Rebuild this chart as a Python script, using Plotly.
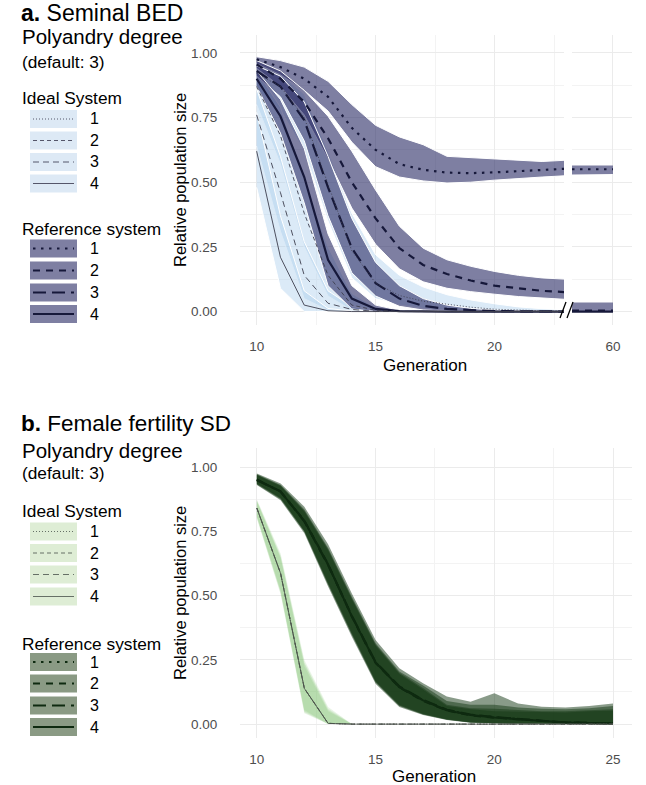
import plotly.graph_objects as go

W, H = 646, 785
def px(x): return x / W
def py(y): return 1 - y / H

FONT = "Liberation Sans, Arial, sans-serif"

# ---------------- DATA: panel a (Seminal BED) ----------------
gen_a = [10, 11, 12, 13, 14, 15, 16, 17, 18, 19, 20, 21, 22, 23]
gen_a_tail = [58, 59, 60]

ref1_mid = [0.975, 0.945, 0.90, 0.83, 0.71, 0.625, 0.57, 0.548, 0.537, 0.535, 0.538, 0.543, 0.548, 0.552]
ref1_lo  = [0.958, 0.915, 0.855, 0.775, 0.655, 0.56, 0.52, 0.505, 0.497, 0.50, 0.508, 0.515, 0.52, 0.525]
ref1_hi  = [0.985, 0.97, 0.945, 0.89, 0.80, 0.72, 0.675, 0.645, 0.60, 0.595, 0.59, 0.585, 0.58, 0.585]
ref2_mid = [0.955, 0.90, 0.81, 0.67, 0.50, 0.36, 0.245, 0.18, 0.145, 0.12, 0.10, 0.09, 0.08, 0.075]
ref2_lo  = [0.94, 0.87, 0.76, 0.59, 0.40, 0.26, 0.165, 0.115, 0.09, 0.077, 0.067, 0.058, 0.052, 0.047]
ref2_hi  = [0.97, 0.93, 0.855, 0.755, 0.62, 0.47, 0.33, 0.245, 0.20, 0.175, 0.155, 0.14, 0.13, 0.125]
ref3_mid = [0.93, 0.87, 0.74, 0.48, 0.245, 0.11, 0.05, 0.022, 0.01, 0.005, 0.002, 0.001, 0.0, 0.0]
ref3_lo  = [0.91, 0.83, 0.66, 0.37, 0.15, 0.06, 0.02, 0.006, 0.002, 0.0, 0.0, 0.0, 0.0, 0.0]
ref3_hi  = [0.95, 0.91, 0.81, 0.60, 0.36, 0.19, 0.10, 0.05, 0.025, 0.012, 0.006, 0.003, 0.002, 0.001]
ref4_mid = [0.90, 0.755, 0.52, 0.20, 0.05, 0.01, 0.002, 0.0, 0.0, 0.0, 0.0, 0.0, 0.0, 0.0]
ref4_lo  = [0.87, 0.69, 0.42, 0.10, 0.01, 0.0, 0.0, 0.0, 0.0, 0.0, 0.0, 0.0, 0.0, 0.0]
ref4_hi  = [0.93, 0.82, 0.63, 0.30, 0.10, 0.025, 0.005, 0.001, 0.0, 0.0, 0.0, 0.0, 0.0, 0.0]

ide1_mid = [0.92, 0.87, 0.75, 0.49, 0.235, 0.11, 0.062, 0.04, 0.028, 0.017, 0.009, 0.005, 0.003, 0.002]
ide1_lo  = [0.86, 0.78, 0.62, 0.35, 0.13, 0.05, 0.025, 0.012, 0.006, 0.003, 0.001, 0.0, 0.0, 0.0]
ide1_hi  = [0.96, 0.92, 0.84, 0.62, 0.38, 0.22, 0.14, 0.095, 0.065, 0.045, 0.03, 0.018, 0.011, 0.007]
ide2_mid = [0.87, 0.68, 0.38, 0.14, 0.025, 0.005, 0.001, 0.0, 0.0, 0.0, 0.0, 0.0, 0.0, 0.0]
ide2_lo  = [0.80, 0.57, 0.25, 0.06, 0.005, 0.0, 0.0, 0.0, 0.0, 0.0, 0.0, 0.0, 0.0, 0.0]
ide2_hi  = [0.93, 0.79, 0.51, 0.25, 0.07, 0.015, 0.004, 0.001, 0.0, 0.0, 0.0, 0.0, 0.0, 0.0]
ide3_mid = [0.76, 0.46, 0.14, 0.032, 0.008, 0.001, 0.0, 0.0, 0.0, 0.0, 0.0, 0.0, 0.0, 0.0]
ide3_lo  = [0.64, 0.31, 0.05, 0.005, 0.0, 0.0, 0.0, 0.0, 0.0, 0.0, 0.0, 0.0, 0.0, 0.0]
ide3_hi  = [0.86, 0.60, 0.27, 0.08, 0.02, 0.004, 0.0, 0.0, 0.0, 0.0, 0.0, 0.0, 0.0, 0.0]
ide4_mid = [0.62, 0.21, 0.025, 0.003, 0.0, 0.0, 0.0, 0.0, 0.0, 0.0, 0.0, 0.0, 0.0, 0.0]
ide4_lo  = [0.48, 0.09, 0.0, 0.0, 0.0, 0.0, 0.0, 0.0, 0.0, 0.0, 0.0, 0.0, 0.0, 0.0]
ide4_hi  = [0.77, 0.37, 0.08, 0.012, 0.002, 0.0, 0.0, 0.0, 0.0, 0.0, 0.0, 0.0, 0.0, 0.0]

# generation 60 segment
tail_ref1_mid = [0.55, 0.55, 0.55]
tail_ref1_lo  = [0.53, 0.53, 0.532]
tail_ref1_hi  = [0.565, 0.566, 0.565]
tail_ref2_mid = [0.004, 0.004, 0.004]
tail_ref2_lo  = [0.0, 0.0, 0.0]
tail_ref2_hi  = [0.035, 0.034, 0.035]
tail_zero     = [0.0, 0.0, 0.0]

# ---------------- DATA: panel b (Female fertility SD) ----------------
gen_b = [10, 11, 12, 13, 14, 15, 16, 17, 18, 19, 20, 21, 22, 23, 24, 25]

bref1_mid = [0.95, 0.905, 0.79, 0.62, 0.42, 0.24, 0.145, 0.093, 0.055, 0.036, 0.027, 0.019, 0.013, 0.007, 0.004, 0.003]
bref2_mid = [0.952, 0.903, 0.792, 0.622, 0.418, 0.238, 0.143, 0.09, 0.053, 0.034, 0.025, 0.018, 0.012, 0.006, 0.004, 0.003]
bref3_mid = [0.948, 0.906, 0.788, 0.618, 0.422, 0.242, 0.147, 0.095, 0.056, 0.037, 0.028, 0.02, 0.013, 0.007, 0.005, 0.003]
bref4_mid = [0.951, 0.904, 0.791, 0.621, 0.419, 0.24, 0.144, 0.092, 0.054, 0.035, 0.026, 0.019, 0.012, 0.006, 0.004, 0.002]
bref1_hi = [0.975, 0.936, 0.845, 0.70, 0.508, 0.327, 0.217, 0.159, 0.107, 0.087, 0.12, 0.08, 0.068, 0.065, 0.07, 0.08]
bref1_lo = [0.93, 0.871, 0.742, 0.535, 0.34, 0.157, 0.067, 0.035, 0.016, 0.005, 0.003, 0.002, 0.001, 0.0, 0.0, 0.0]
bref2_hi = [0.972, 0.93, 0.835, 0.685, 0.495, 0.315, 0.205, 0.15, 0.09, 0.075, 0.075, 0.065, 0.06, 0.058, 0.062, 0.07]
bref2_lo = [0.935, 0.878, 0.75, 0.545, 0.35, 0.165, 0.072, 0.038, 0.018, 0.006, 0.003, 0.002, 0.001, 0.0, 0.0, 0.0]
bref3_hi = [0.97, 0.928, 0.83, 0.68, 0.49, 0.31, 0.2, 0.14, 0.075, 0.062, 0.06, 0.055, 0.05, 0.05, 0.055, 0.058]
bref3_lo = [0.932, 0.875, 0.748, 0.542, 0.348, 0.162, 0.07, 0.037, 0.017, 0.006, 0.003, 0.002, 0.001, 0.0, 0.0, 0.0]
bref4_hi = [0.968, 0.925, 0.826, 0.675, 0.485, 0.305, 0.195, 0.135, 0.07, 0.058, 0.05, 0.048, 0.045, 0.045, 0.05, 0.052]
bref4_lo = [0.936, 0.88, 0.752, 0.55, 0.355, 0.168, 0.075, 0.04, 0.019, 0.007, 0.004, 0.002, 0.001, 0.0, 0.0, 0.0]

bide_mid = [0.84, 0.586, 0.139, 0.003, 0.0, 0.0, 0.0, 0.0, 0.0, 0.0, 0.0, 0.0, 0.0, 0.0, 0.0, 0.0]
bide1_hi = [0.874, 0.664, 0.249, 0.067, 0.0, 0.0, 0.0, 0.0, 0.0, 0.0, 0.0, 0.0, 0.0, 0.0, 0.0, 0.0]
bide1_lo = [0.80, 0.505, 0.042, 0.0, 0.0, 0.0, 0.0, 0.0, 0.0, 0.0, 0.0, 0.0, 0.0, 0.0, 0.0, 0.0]
bide2_hi = [0.868, 0.65, 0.235, 0.055, 0.0, 0.0, 0.0, 0.0, 0.0, 0.0, 0.0, 0.0, 0.0, 0.0, 0.0, 0.0]
bide2_lo = [0.806, 0.515, 0.05, 0.0, 0.0, 0.0, 0.0, 0.0, 0.0, 0.0, 0.0, 0.0, 0.0, 0.0, 0.0, 0.0]
bide3_hi = [0.865, 0.645, 0.225, 0.05, 0.0, 0.0, 0.0, 0.0, 0.0, 0.0, 0.0, 0.0, 0.0, 0.0, 0.0, 0.0]
bide3_lo = [0.81, 0.52, 0.055, 0.0, 0.0, 0.0, 0.0, 0.0, 0.0, 0.0, 0.0, 0.0, 0.0, 0.0, 0.0, 0.0]
bide4_hi = [0.87, 0.655, 0.24, 0.06, 0.0, 0.0, 0.0, 0.0, 0.0, 0.0, 0.0, 0.0, 0.0, 0.0, 0.0, 0.0]
bide4_lo = [0.803, 0.51, 0.046, 0.0, 0.0, 0.0, 0.0, 0.0, 0.0, 0.0, 0.0, 0.0, 0.0, 0.0, 0.0, 0.0]

levels = ["1", "2", "3", "4"]
y_ticks = [0, 0.25, 0.5, 0.75, 1.0]
y_ticktext = ["0.00", "0.25", "0.50", "0.75", "1.00"]

# ---------------- STYLE ----------------
REF_DASH = ["2.5px,5.5px", "7px,6px", "13px,6px", "solid"]
IDE_DASH = ["1px,2px", "4px,3px", "6px,4px", "solid"]

A_REF_FILL = "rgba(40,42,100,0.6)"
A_IDE_FILL = "rgba(170,205,235,0.42)"
A_REF_LINE = "#16183a"
A_IDE_LINE = "#3d3e4e"
B_REF_FILL = "rgba(20,55,20,0.5)"
B_IDE_FILL = "rgba(120,190,100,0.17)"
B_REF_LINE = "#0e2a10"
B_IDE_LINE = "#4a524a"

fig = go.Figure()

def band(x, lo, hi, color, xa, ya, outline=None):
    fig.add_trace(go.Scatter(
        x=list(x) + list(x)[::-1], y=list(hi) + list(lo)[::-1],
        fill="toself", fillcolor=color, mode="lines",
        line=dict(width=1 if outline else 0, color=outline or color),
        xaxis=xa, yaxis=ya, hoverinfo="skip", showlegend=False))

def line(x, y, color, width, dash, xa, ya):
    fig.add_trace(go.Scatter(
        x=x, y=y, mode="lines", line=dict(color=color, width=width, dash=dash),
        xaxis=xa, yaxis=ya, hoverinfo="skip", showlegend=False))

# panel a, main segment
ide_a = [(ide1_mid, ide1_lo, ide1_hi), (ide2_mid, ide2_lo, ide2_hi),
         (ide3_mid, ide3_lo, ide3_hi), (ide4_mid, ide4_lo, ide4_hi)]
ref_a = [(ref1_mid, ref1_lo, ref1_hi), (ref2_mid, ref2_lo, ref2_hi),
         (ref3_mid, ref3_lo, ref3_hi), (ref4_mid, ref4_lo, ref4_hi)]
for m, lo, hi in ide_a:
    band(gen_a, lo, hi, A_IDE_FILL, "x", "y", outline="white")
for m, lo, hi in ref_a:
    band(gen_a, lo, hi, A_REF_FILL, "x", "y", outline="white")
for i, (m, lo, hi) in enumerate(ref_a):
    line(gen_a, m, A_REF_LINE, 2.2, REF_DASH[i], "x", "y")
for i, (m, lo, hi) in enumerate(ide_a):
    line(gen_a, m, A_IDE_LINE, 0.9, IDE_DASH[i], "x", "y")

# panel a, generation 60 segment
band(gen_a_tail, tail_ref1_lo, tail_ref1_hi, A_REF_FILL, "x3", "y3")
band(gen_a_tail, tail_ref2_lo, tail_ref2_hi, A_REF_FILL, "x3", "y3")
line(gen_a_tail, tail_zero, A_REF_LINE, 2.2, "solid", "x3", "y3")
line(gen_a_tail, tail_ref2_mid, A_REF_LINE, 2.2, REF_DASH[1], "x3", "y3")
line(gen_a_tail, tail_ref1_mid, A_REF_LINE, 2.2, REF_DASH[0], "x3", "y3")

# panel b
ide_b = [(bide1_lo, bide1_hi), (bide2_lo, bide2_hi), (bide3_lo, bide3_hi), (bide4_lo, bide4_hi)]
ref_b = [(bref1_mid, bref1_lo, bref1_hi), (bref2_mid, bref2_lo, bref2_hi),
         (bref3_mid, bref3_lo, bref3_hi), (bref4_mid, bref4_lo, bref4_hi)]
for lo, hi in ide_b:
    band(gen_b, lo, hi, B_IDE_FILL, "x2", "y2")
for m, lo, hi in ref_b:
    band(gen_b, lo, hi, B_REF_FILL, "x2", "y2")
for i, (m, lo, hi) in enumerate(ref_b):
    line(gen_b, m, B_REF_LINE, 2.0, REF_DASH[i], "x2", "y2")
for i in range(4):
    line(gen_b, bide_mid, B_IDE_LINE, 0.8, IDE_DASH[i], "x2", "y2")

# ---------------- AXES ----------------
GRID = "#ebebeb"
MINOR = "#f3f3f3"
tickfont = dict(family=FONT, size=13.5, color="#4d4d4d")

def yax(domain, rng, labels=True):
    return dict(domain=domain, range=rng, tickvals=y_ticks, ticktext=y_ticktext,
                showticklabels=labels, ticks="outside" if labels else "", ticklen=19,
                tickcolor="rgba(0,0,0,0)", tickfont=tickfont,
                showgrid=True, gridcolor=GRID, gridwidth=1, zeroline=False, showline=False,
                minor=dict(tickvals=[0.125, 0.375, 0.625, 0.875], showgrid=True,
                           gridcolor=MINOR, gridwidth=0.7))

def xax(domain, rng, ticks, minor, anchor):
    return dict(domain=domain, range=rng, tickvals=ticks, ticktext=[str(t) for t in ticks],
                ticks="outside", ticklen=9, tickcolor="rgba(0,0,0,0)", tickfont=tickfont,
                showgrid=True, gridcolor=GRID, gridwidth=1, zeroline=False, showline=False,
                anchor=anchor,
                minor=dict(tickvals=minor, showgrid=True, gridcolor=MINOR, gridwidth=0.7))

top_dom = [py(325), py(35)]
bot_dom = [py(738), py(448)]

fig.update_layout(
    width=W, height=H, margin=dict(l=0, r=0, t=0, b=0),
    paper_bgcolor="white", plot_bgcolor="white",
    font=dict(family=FONT, color="black"),
    xaxis=xax([px(240), px(564)], [9.3, 22.92], [10, 15, 20], [12.5, 17.5, 22.5], "y"),
    yaxis=yax(top_dom, [-0.052, 1.069]) | dict(anchor="x"),
    xaxis3=xax([px(572), px(632)], [58, 60.93], [60], [], "y3"),
    yaxis3=yax(top_dom, [-0.052, 1.069], labels=False) | dict(anchor="x3"),
    xaxis2=xax([px(240), px(632)], [9.29, 25.8], [10, 15, 20, 25], [12.5, 17.5, 22.5], "y2"),
    yaxis2=yax(bot_dom, [-0.054, 1.074]) | dict(anchor="x2"),
)

# ---------------- TEXT ----------------
ann = []
def text(x, y, s, size, color="black", xanchor="left", angle=0):
    ann.append(dict(x=px(x), y=py(y), xref="paper", yref="paper", text=s, showarrow=False,
                    xanchor=xanchor, yanchor="middle", textangle=angle,
                    font=dict(family=FONT, size=size, color=color)))

shapes = []
def legend(title_y, title, rows_y, rect_color, line_color, lw, dashes):
    text(20, title_y, title, 17.3)
    for k, cy in enumerate(rows_y):
        shapes.append(dict(type="rect", xref="paper", yref="paper",
                           x0=px(30), x1=px(77), y0=py(cy + 9), y1=py(cy - 9),
                           fillcolor=rect_color, line=dict(width=0), layer="above"))
        shapes.append(dict(type="line", xref="paper", yref="paper",
                           x0=px(33), x1=px(74), y0=py(cy), y1=py(cy),
                           line=dict(color=line_color, width=lw, dash=dashes[k]), layer="above"))
        text(88, cy, levels[k], 16)

# panel a
text(19, 13, "<b>a.</b> Seminal BED", 23)
text(20, 37, "Polyandry degree", 20.5)
text(20, 62, "(default: 3)", 17.3)
legend(98, "Ideal System", [119, 140.5, 162, 183.5], "#dde9f5", "#55566a", 1.0, IDE_DASH)
legend(229, "Reference system", [248.5, 270.5, 292.5, 314], "#7e7fa2", A_REF_LINE, 2.2, REF_DASH)
text(180, 180, "Relative population size", 16.5, angle=-90, xanchor="center")
text(425, 365, "Generation", 17, xanchor="center")

# panel b
text(19, 423, "<b>b.</b> Female fertility SD", 22.5)
text(20, 450, "Polyandry degree", 20.5)
text(20, 473, "(default: 3)", 17.3)
legend(511, "Ideal System", [531.5, 553, 574.5, 596.5], "#deedd5", "#667066", 1.0, IDE_DASH)
legend(644, "Reference system", [662, 683.5, 705.5, 727], "#8a9a84", B_REF_LINE, 2.0, REF_DASH)
text(180, 593, "Relative population size", 16.5, angle=-90, xanchor="center")
text(434, 776, "Generation", 17, xanchor="center")

# axis break marks
for x0 in (560, 567):
    shapes.append(dict(type="line", xref="paper", yref="paper",
                       x0=px(x0), x1=px(x0 + 6), y0=py(318), y1=py(302),
                       line=dict(color="black", width=1.3), layer="above"))

fig.update_layout(annotations=ann, shapes=shapes)
fig.write_html("out.html", config={"displayModeBar": False},
               post_script="document.body.style.margin='0px';")
